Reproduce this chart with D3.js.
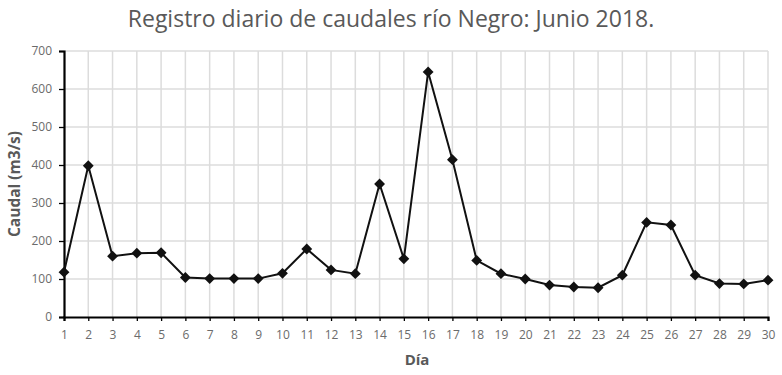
<!DOCTYPE html>
<html>
<head>
<meta charset="utf-8">
<script src="https://cdn.jsdelivr.net/npm/d3@7"></script>
<style>
  body { margin: 0; background: #fff; }
  svg { display: block; font-family: "Open Sans", "Noto Sans", sans-serif; }
</style>
</head>
<body>
<svg id="chart" width="782" height="375"></svg>
<script>
const days = d3.range(1, 31);
const caudal = [118, 398, 160, 168, 169, 104, 101, 101, 101, 115,
                179, 124, 114, 350, 153, 645, 414, 149, 114, 100,
                84, 79, 77, 110, 249, 242, 110, 88, 87, 97];
const yTicks = [0, 100, 200, 300, 400, 500, 600, 700];

const svg = d3.select('#chart');
const margin = { left: 64, right: 14, top: 51, bottom: 58 };
const width = 782, height = 375;

const x = d3.scaleLinear()
    .domain([1, 30])
    .range([margin.left, width - margin.right]);
const y = d3.scaleLinear()
    .domain([0, 700])
    .range([height - margin.bottom, margin.top]);

// gridlines
svg.append('g')
    .selectAll('line')
    .data(yTicks.slice(1))
    .enter()
    .append('line')
    .attr('x1', x(1)).attr('x2', x(30))
    .attr('y1', d => y(d)).attr('y2', d => y(d))
    .attr('stroke', '#dcdcdc')
    .attr('stroke-width', 1.5);

svg.append('g')
    .selectAll('line')
    .data(days.slice(1))
    .enter()
    .append('line')
    .attr('x1', d => x(d)).attr('x2', d => x(d))
    .attr('y1', y(0)).attr('y2', y(700))
    .attr('stroke', '#dcdcdc')
    .attr('stroke-width', 1.5);

// axes
const xAxis = svg.append('g')
    .attr('transform', `translate(0,${y(0)})`)
    .call(d3.axisBottom(x).tickValues(days).tickFormat(d3.format('d')).tickSize(4).tickPadding(9));
const yAxis = svg.append('g')
    .attr('transform', `translate(${x(1)},0)`)
    .call(d3.axisLeft(y).tickValues(yTicks).tickSize(5).tickPadding(7));

[xAxis, yAxis].forEach(a => {
    a.select('.domain').attr('stroke', '#000').attr('stroke-width', 2.2);
    a.selectAll('.tick line').attr('stroke', '#000').attr('stroke-width', 1.3);
    a.selectAll('.tick text')
        .attr('fill', '#6b6b6b')
        .attr('font-size', '12px')
        .attr('font-family', '"Open Sans", sans-serif');
});

// line + markers
const line = d3.line()
    .x((d, i) => x(days[i]))
    .y(d => y(d));

svg.append('path')
    .datum(caudal)
    .attr('d', line)
    .attr('fill', 'none')
    .attr('stroke', '#111')
    .attr('stroke-width', 2);

svg.append('g')
    .selectAll('path')
    .data(caudal)
    .enter()
    .append('path')
    .attr('d', d3.symbol().type(d3.symbolDiamond2).size(75))
    .attr('transform', (d, i) => `translate(${x(days[i])},${y(d)})`)
    .attr('fill', '#111');

// titles
svg.append('text')
    .attr('x', 391)
    .attr('y', 27)
    .attr('text-anchor', 'middle')
    .attr('font-size', '23px')
    .attr('fill', '#595959')
    .text('Registro diario de caudales río Negro: Junio 2018.');

svg.append('text')
    .attr('x', 417)
    .attr('y', 365)
    .attr('text-anchor', 'middle')
    .attr('font-size', '15px')
    .attr('font-weight', 'bold')
    .attr('fill', '#595959')
    .text('Día');

svg.append('text')
    .attr('transform', `translate(20,${(y(0) + y(700)) / 2}) rotate(-90)`)
    .attr('text-anchor', 'middle')
    .attr('font-size', '15.5px')
    .attr('font-weight', 'bold')
    .attr('fill', '#595959')
    .text('Caudal (m3/s)');
</script>
</body>
</html>
